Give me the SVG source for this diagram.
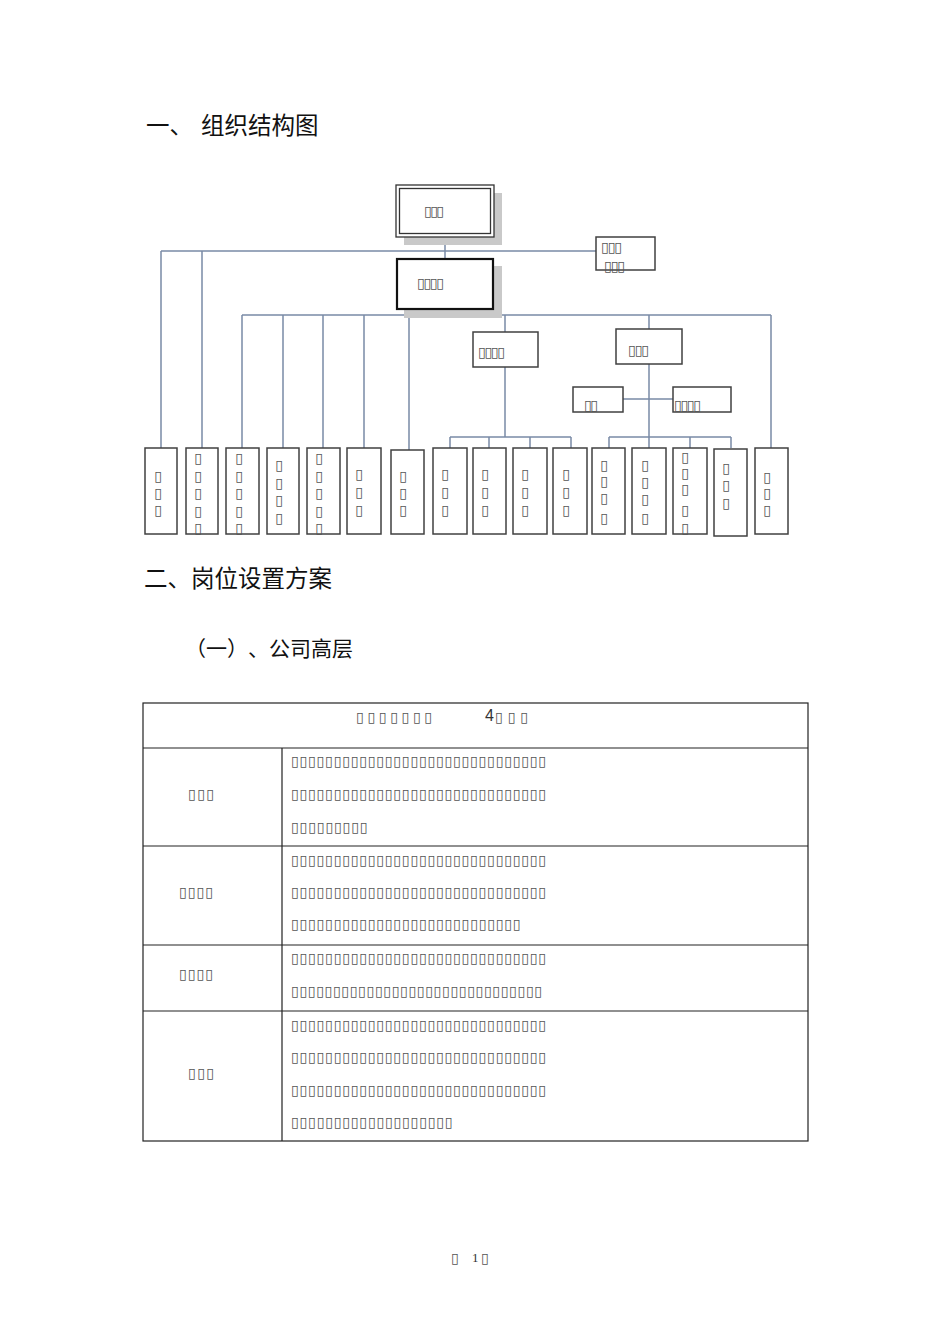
<svg xmlns="http://www.w3.org/2000/svg" width="950" height="1344" viewBox="0 0 950 1344">
<style>
.h{font-family:"Noto Sans CJK SC","Noto Sans",sans-serif;fill:#111}
.t{font-family:"DejaVu Sans",sans-serif;font-size:14px;fill:#555}
.tv{font-family:"DejaVu Sans",sans-serif;font-size:14px;fill:#555;text-anchor:middle}
.box{fill:#fff;stroke:#404040;stroke-width:1.5}
.sh{fill:#c9c9c9}
.ln{stroke:#7A8BA6;stroke-width:1.5;fill:none}
.tb{stroke:#222;stroke-width:1.2;fill:none}
</style>
<rect width="950" height="1344" fill="#fff"/>
<text class="h" x="146" y="134" font-size="23.5">一、</text>
<text class="h" x="201" y="134" font-size="23.5">组织结构图</text>

<g id="connectors">
<path class="ln" d="M445,237V258 M161,251H596 M161,251V448 M202,251V448 M445,309V315 M242,315H771 M242,315V448 M283,315V448 M323,315V448 M364,315V448 M409,315V450 M505,315V332 M649,315V329 M771,315V448 M505,367V437 M450,437H571 M450,437V448 M489,437V448 M530,437V448 M571,437V448 M649,364V448 M609,437H731 M609,437V448 M690,437V448 M731,437V448 M623,399H673"/>
</g>

<g id="n-top">
<rect class="sh" x="404" y="193" width="98" height="52"/>
<rect x="396" y="185" width="98" height="52" fill="#fff" stroke="#333" stroke-width="1.3"/>
<rect x="399.5" y="188.5" width="91" height="45" fill="none" stroke="#333" stroke-width="1.3"/>
<text class="t" x="424" y="216" textLength="20" lengthAdjust="spacing">▯▯▯</text>
</g>
<g id="n-right">
<rect class="box" x="596" y="237" width="59" height="33"/>
<text class="t" x="601" y="252" textLength="21" lengthAdjust="spacing">▯▯▯</text>
<text class="t" x="604" y="271" textLength="21" lengthAdjust="spacing">▯▯▯</text>
</g>
<g id="n-gm">
<rect class="sh" x="404" y="266" width="98" height="52"/>
<rect x="397" y="259" width="96" height="50" fill="#fff" stroke="#111" stroke-width="2.2"/>
<text class="t" x="417" y="288" textLength="27" lengthAdjust="spacing">▯▯▯▯</text>
</g>
<g id="n-a">
<rect class="box" x="473" y="332" width="65" height="35"/>
<text class="t" x="478" y="357" textLength="27" lengthAdjust="spacing">▯▯▯▯</text>
</g>
<g id="n-b">
<rect class="box" x="616" y="329" width="66" height="35"/>
<text class="t" x="628" y="355" textLength="21" lengthAdjust="spacing">▯▯▯</text>
</g>
<g id="n-c">
<rect class="box" x="573" y="387" width="50" height="25"/>
<text class="t" x="584" y="410" textLength="14" lengthAdjust="spacing">▯▯</text>
</g>
<g id="n-d">
<rect class="box" x="673" y="387" width="58" height="25"/>
<text class="t" x="674" y="410" textLength="27" lengthAdjust="spacing">▯▯▯▯</text>
</g>

<g id="b1"><rect class="box" x="145" y="448" width="32" height="86"/><text class="tv"><tspan x="158" y="481">▯</tspan><tspan x="158" y="498">▯</tspan><tspan x="158" y="515">▯</tspan></text></g>
<g id="b2"><rect class="box" x="186" y="448" width="32" height="86"/><text class="tv"><tspan x="198" y="463">▯</tspan><tspan x="198" y="480.5">▯</tspan><tspan x="198" y="498">▯</tspan><tspan x="198" y="515.5">▯</tspan><tspan x="198" y="533">▯</tspan></text></g>
<g id="b3"><rect class="box" x="226" y="448" width="33" height="86"/><text class="tv"><tspan x="239" y="463">▯</tspan><tspan x="239" y="480.5">▯</tspan><tspan x="239" y="498">▯</tspan><tspan x="239" y="515.5">▯</tspan><tspan x="239" y="533">▯</tspan></text></g>
<g id="b4"><rect class="box" x="267" y="448" width="32" height="86"/><text class="tv"><tspan x="279" y="470">▯</tspan><tspan x="279" y="488">▯</tspan><tspan x="279" y="505">▯</tspan><tspan x="279" y="523">▯</tspan></text></g>
<g id="b5"><rect class="box" x="307" y="448" width="33" height="86"/><text class="tv"><tspan x="319" y="463">▯</tspan><tspan x="319" y="480.5">▯</tspan><tspan x="319" y="498">▯</tspan><tspan x="319" y="515.5">▯</tspan><tspan x="319" y="533">▯</tspan></text></g>
<g id="b6"><rect class="box" x="347" y="448" width="34" height="86"/><text class="tv"><tspan x="359" y="479">▯</tspan><tspan x="359" y="497">▯</tspan><tspan x="359" y="515">▯</tspan></text></g>
<g id="b7"><rect class="box" x="391" y="450" width="33" height="84"/><text class="tv"><tspan x="403" y="481">▯</tspan><tspan x="403" y="498">▯</tspan><tspan x="403" y="515">▯</tspan></text></g>
<g id="b8"><rect class="box" x="433" y="448" width="34" height="86"/><text class="tv"><tspan x="445" y="479">▯</tspan><tspan x="445" y="497">▯</tspan><tspan x="445" y="515">▯</tspan></text></g>
<g id="b9"><rect class="box" x="473" y="448" width="33" height="86"/><text class="tv"><tspan x="485" y="479">▯</tspan><tspan x="485" y="497">▯</tspan><tspan x="485" y="515">▯</tspan></text></g>
<g id="b10"><rect class="box" x="513" y="448" width="34" height="86"/><text class="tv"><tspan x="525" y="479">▯</tspan><tspan x="525" y="497">▯</tspan><tspan x="525" y="515">▯</tspan></text></g>
<g id="b11"><rect class="box" x="553" y="448" width="34" height="86"/><text class="tv"><tspan x="566" y="479">▯</tspan><tspan x="566" y="497">▯</tspan><tspan x="566" y="515">▯</tspan></text></g>
<g id="b12"><rect class="box" x="592" y="448" width="33" height="86"/><text class="tv"><tspan x="604" y="470">▯</tspan><tspan x="604" y="486">▯</tspan><tspan x="604" y="503">▯</tspan><tspan x="604" y="523">▯</tspan></text></g>
<g id="b13"><rect class="box" x="632" y="448" width="34" height="86"/><text class="tv"><tspan x="645" y="470">▯</tspan><tspan x="645" y="487">▯</tspan><tspan x="645" y="504">▯</tspan><tspan x="645" y="523">▯</tspan></text></g>
<g id="b14"><rect class="box" x="673" y="448" width="34" height="86"/><text class="tv"><tspan x="685" y="462">▯</tspan><tspan x="685" y="478">▯</tspan><tspan x="685" y="494">▯</tspan><tspan x="685" y="515">▯</tspan><tspan x="685" y="533">▯</tspan></text></g>
<g id="b15"><rect class="box" x="714" y="449" width="33" height="87"/><text class="tv"><tspan x="726" y="473">▯</tspan><tspan x="726" y="490">▯</tspan><tspan x="726" y="508">▯</tspan></text></g>
<g id="b16"><rect class="box" x="755" y="448" width="33" height="86"/><text class="tv"><tspan x="767" y="482">▯</tspan><tspan x="767" y="498">▯</tspan><tspan x="767" y="515">▯</tspan></text></g>

<text class="h" x="144 167.5 191 214.5 238 261.5 285 308.5" y="587" font-size="23.5">二、岗位设置方案</text>
<text class="h" x="185 206 227 248 269 290 311 332" y="656" font-size="21">（一）、公司高层</text>

<g id="table">
<rect class="tb" x="143" y="703" width="665" height="438"/>
<path class="tb" d="M143,748H808 M143,846H808 M143,945H808 M143,1011H808 M282,748V1141"/>
<text class="t" x="356" y="722" font-size="19" textLength="76" lengthAdjust="spacing">▯▯▯▯▯▯▯</text>
<text x="485" y="721" font-family="Liberation Sans Narrow,Liberation Sans,sans-serif" font-size="16" fill="#333">4</text>
<text class="t" x="495" y="722" font-size="19" textLength="33" lengthAdjust="spacing">▯▯▯</text>

<text class="t" x="188" y="799" textLength="26" lengthAdjust="spacing">▯▯▯</text>
<text class="t" x="179" y="897" textLength="34" lengthAdjust="spacing">▯▯▯▯</text>
<text class="t" x="179" y="979" textLength="34" lengthAdjust="spacing">▯▯▯▯</text>
<text class="t" x="188" y="1078" textLength="26" lengthAdjust="spacing">▯▯▯</text>

<text class="t" x="291" y="766" textLength="255" lengthAdjust="spacing">▯▯▯▯▯▯▯▯▯▯▯▯▯▯▯▯▯▯▯▯▯▯▯▯▯▯▯▯▯▯</text>
<text class="t" x="291" y="799" textLength="255" lengthAdjust="spacing">▯▯▯▯▯▯▯▯▯▯▯▯▯▯▯▯▯▯▯▯▯▯▯▯▯▯▯▯▯▯</text>
<text class="t" x="291" y="832" textLength="76.5" lengthAdjust="spacing">▯▯▯▯▯▯▯▯▯</text>

<text class="t" x="291" y="865" textLength="255" lengthAdjust="spacing">▯▯▯▯▯▯▯▯▯▯▯▯▯▯▯▯▯▯▯▯▯▯▯▯▯▯▯▯▯▯</text>
<text class="t" x="291" y="897" textLength="255" lengthAdjust="spacing">▯▯▯▯▯▯▯▯▯▯▯▯▯▯▯▯▯▯▯▯▯▯▯▯▯▯▯▯▯▯</text>
<text class="t" x="291" y="929" textLength="229.5" lengthAdjust="spacing">▯▯▯▯▯▯▯▯▯▯▯▯▯▯▯▯▯▯▯▯▯▯▯▯▯▯▯</text>

<text class="t" x="291" y="963" textLength="255" lengthAdjust="spacing">▯▯▯▯▯▯▯▯▯▯▯▯▯▯▯▯▯▯▯▯▯▯▯▯▯▯▯▯▯▯</text>
<text class="t" x="291" y="996" textLength="251" lengthAdjust="spacing">▯▯▯▯▯▯▯▯▯▯▯▯▯▯▯▯▯▯▯▯▯▯▯▯▯▯▯▯▯▯</text>

<text class="t" x="291" y="1030" textLength="255" lengthAdjust="spacing">▯▯▯▯▯▯▯▯▯▯▯▯▯▯▯▯▯▯▯▯▯▯▯▯▯▯▯▯▯▯</text>
<text class="t" x="291" y="1062" textLength="255" lengthAdjust="spacing">▯▯▯▯▯▯▯▯▯▯▯▯▯▯▯▯▯▯▯▯▯▯▯▯▯▯▯▯▯▯</text>
<text class="t" x="291" y="1095" textLength="255" lengthAdjust="spacing">▯▯▯▯▯▯▯▯▯▯▯▯▯▯▯▯▯▯▯▯▯▯▯▯▯▯▯▯▯▯</text>
<text class="t" x="291" y="1127" textLength="161.5" lengthAdjust="spacing">▯▯▯▯▯▯▯▯▯▯▯▯▯▯▯▯▯▯▯</text>
</g>

<text class="t" x="451" y="1263">▯</text>
<text x="472" y="1262" font-family="Liberation Serif,serif" font-size="13" fill="#333">1</text>
<text class="t" x="481" y="1263">▯</text>
</svg>
